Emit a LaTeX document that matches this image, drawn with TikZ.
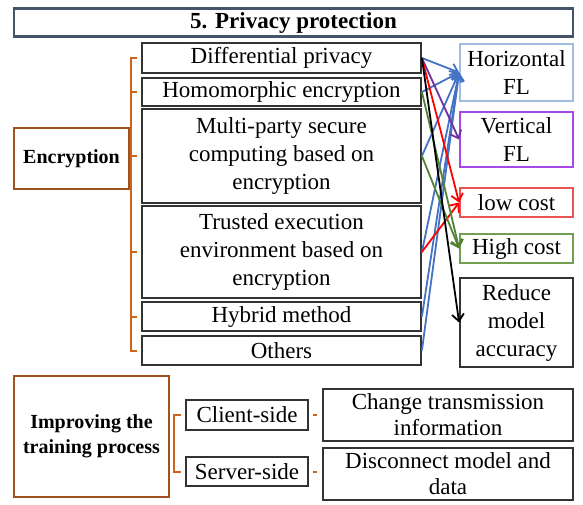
\documentclass[tikz,border=0pt]{standalone}
\usepackage{fontspec}
\setmainfont{Liberation Serif}
\usetikzlibrary{arrows.meta}

\definecolor{titleblue}{RGB}{68,84,106}
\definecolor{boxbrown}{RGB}{160,82,30}
\definecolor{braceorange}{RGB}{205,100,30}
\definecolor{hblue}{RGB}{160,188,225}
\definecolor{vpurple}{RGB}{168,72,230}
\definecolor{lred}{RGB}{232,84,84}
\definecolor{hgreen}{RGB}{112,160,80}
\definecolor{ablue}{RGB}{68,114,196}
\definecolor{apurple}{RGB}{112,48,160}
\definecolor{agreen}{RGB}{84,130,53}

\begin{document}
\begin{tikzpicture}[x=1pt, y=-1pt, line width=1.8pt,
      every node/.append style={font=\fontsize{23}{28}\selectfont,align=center,inner sep=0pt},
      link/.style={-{Straight Barb[length=7pt,width=12pt]},line width=1.8pt}]
    \tikzstyle{box} = [draw=black!80,rectangle]
    \tikzstyle{head} = [draw=boxbrown,line width=2.2pt,font=\fontsize{20}{25}\selectfont\bfseries]
    \tikzstyle{item} = [box,minimum width=279]
    \tikzstyle{tag} = [box,minimum width=113]
    \tikzstyle{brace} = [draw=braceorange,line width=2pt]
    \useasboundingbox (0,0) rectangle (583,504);

    \node[draw=titleblue,line width=2.8pt,minimum width=559,minimum height=28,
      font=\fontsize{23}{28}\selectfont\bfseries] (title) at (293.5,22.5) {5. Privacy protection};

    % encryption methods
    \node[head,minimum width=115,minimum height=61] (enc) at (71.5,158.5) {Encryption};
    \node[item,minimum height=30] (dp) at (281.5,58) {Differential privacy};
    \node[item,minimum height=28] (he) at (281.5,92) {Homomorphic encryption};
    \node[item,minimum height=94] (mp) at (281.5,156) {Multi-party secure\\computing based on\\encryption};
    \node[item,minimum height=92] (te) at (281.5,252) {Trusted execution\\environment based on\\encryption};
    \node[item,minimum height=29] (hy) at (281.5,316.5) {Hybrid method};
    \node[item,minimum height=29] (ot) at (281.5,350.5) {Others};
    \draw[brace] ([xshift=-4pt]dp.west) -- ++(-6,0) |- ([xshift=-4pt]ot.west);
    \foreach \n in {he,mp,te,hy}
      \draw[brace] ([xshift=-4pt]\n.west) -- ++(-6,0);

    % properties
    \node[tag,draw=hblue,minimum height=57] (hfl) at (516.5,72.5) {Horizontal\\FL};
    \node[tag,draw=vpurple,minimum height=55] (vfl) at (516.5,139.5) {Vertical\\FL};
    \node[tag,draw=lred,minimum height=29] (low) at (516.5,202.5) {low cost};
    \node[tag,draw=hgreen,minimum height=29] (high) at (516.5,248.5) {High cost};
    \node[tag,minimum height=89] (acc) at (516.5,322.5) {Reduce\\model\\accuracy};

    \foreach \n in {dp,he,mp,te,hy,ot}
      \draw[link,ablue] (\n.east) -- (hfl.west);
    \draw[link,apurple] (dp.east) -- (vfl.west);
    \draw[link,red] (dp.east) -- (low.west);
    \draw[link,red] (te.east) -- (low.west);
    \draw[link,agreen] (he.east) -- (high.west);
    \draw[link,agreen] (mp.east) -- (high.west);
    \draw[link,black] (dp.east) -- (acc.west);

    % training process
    \node[head,minimum width=155,minimum height=121] (imp) at (91.5,436.5) {Improving the\\training process};
    \node[box,minimum width=122,minimum height=30] (cli) at (247,415) {Client-side};
    \node[box,minimum width=122,minimum height=29] (srv) at (247,471.5) {Server-side};
    \node[box,minimum width=250,minimum height=52,font=\fontsize{23}{26}\selectfont] (chg) at (448,415) {Change transmission\\information};
    \node[box,minimum width=250,minimum height=52,font=\fontsize{23}{26}\selectfont] (dis) at (448,474) {Disconnect model and\\data};
    \draw[brace] ([xshift=-4pt]cli.west) -- ++(-7,0) |- ([xshift=-4pt]srv.west);
    \draw[brace] ([xshift=4pt]cli.east) -- ([xshift=-5pt]chg.west);
    \draw[brace] ([xshift=4pt]srv.east) -- ([xshift=-5pt]srv.east -| dis.west);
\end{tikzpicture}
\end{document}
